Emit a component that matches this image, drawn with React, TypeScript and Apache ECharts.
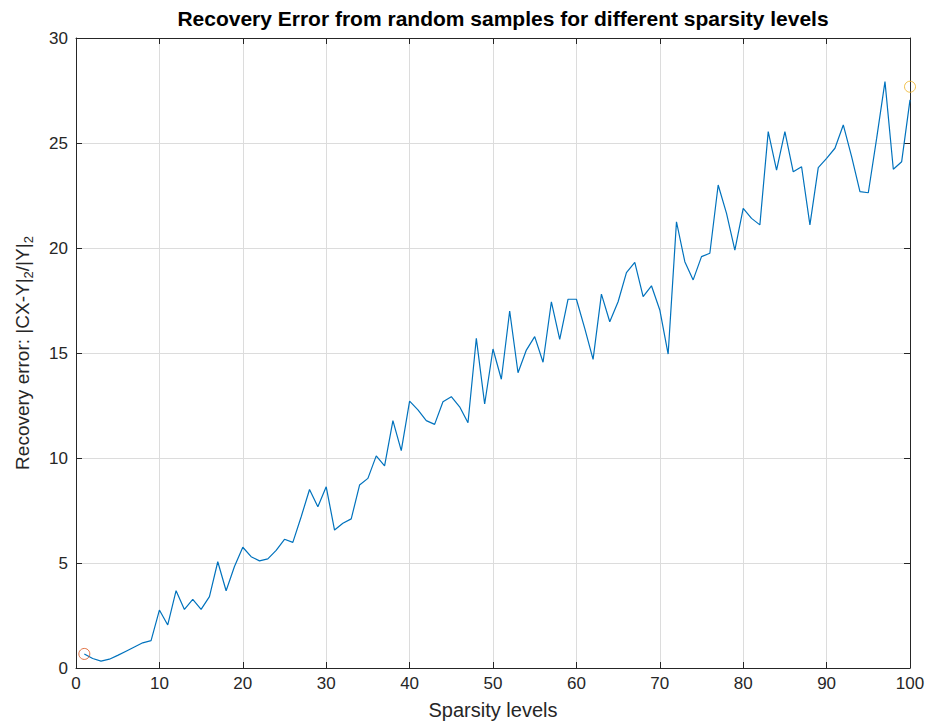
import React, { useEffect, useRef } from "react";
import * as echarts from "echarts";

const sparsity: number[] = Array.from({ length: 100 }, (_, i) => i + 1);
const recoveryError: number[] = [
  0.67, 0.45, 0.33, 0.42, 0.6, 0.8, 1.0, 1.2, 1.3, 2.76,
  2.05, 3.68, 2.79, 3.27, 2.79, 3.4, 5.06, 3.68, 4.83, 5.75,
  5.3, 5.1, 5.2, 5.6, 6.13, 5.98, 7.2, 8.5, 7.68, 8.63,
  6.57, 6.89, 7.1, 8.71, 9.03, 10.1, 9.63, 11.78, 10.35, 12.71,
  12.29, 11.78, 11.6, 12.68, 12.92, 12.44, 11.68, 15.7, 12.57, 15.19,
  13.75, 17.0, 14.06, 15.14, 15.78, 14.56, 17.44, 15.65, 17.56, 17.56,
  16.17, 14.7, 17.8, 16.49, 17.44, 18.83, 19.32, 17.68, 18.2, 17.05,
  14.95, 21.25, 19.35, 18.48, 19.59, 19.75, 23.0, 21.65, 19.9, 21.89,
  21.41, 21.1, 25.54, 23.71, 25.54, 23.63, 23.87, 21.1, 23.83, 24.27,
  24.75, 25.86, 24.35, 22.68, 22.63, 25.22, 27.92, 23.75, 24.11, 27.05,
];
const startMarker: [number, number] = [1, 0.67];
const endMarker: [number, number] = [100, 27.68];

const titleText = "Recovery Error from random samples for different sparsity levels";
const xName = "Sparsity levels";

export default function App() {
  const ref = useRef<HTMLDivElement>(null);
  useEffect(() => {
    document.body.style.margin = "0";
    const chart = echarts.init(ref.current!, null, { renderer: "svg" });
    const font = "Liberation Sans, Arial, Helvetica, sans-serif";
    const axisColor = "#262626";
    const gridLine = { show: true, lineStyle: { color: "#dcdcdc", width: 1 } };
    const axisLine = { show: true, onZero: false, lineStyle: { color: axisColor, width: 1 } };
    const axisTick = { show: true, inside: true, length: 6, lineStyle: { color: axisColor } };
    const commonX = { type: "value" as const, min: 0, max: 100, interval: 10 };
    const commonY = { type: "value" as const, min: 0, max: 30, interval: 5 };
    chart.setOption({
      animation: false,
      backgroundColor: "#ffffff",
      title: {
        text: titleText,
        left: 498,
        textAlign: "center",
        top: 3,
        textStyle: { fontFamily: font, fontSize: 21, fontWeight: "bold", color: "#000" },
      },
      grid: { left: 76, right: 20, top: 38, bottom: 58, containLabel: false },
      xAxis: [
        {
          ...commonX,
          position: "bottom",
          name: xName,
          nameLocation: "middle",
          nameGap: 32,
          nameTextStyle: { fontFamily: font, fontSize: 20, color: axisColor },
          axisLine,
          axisTick,
          axisLabel: { fontFamily: font, fontSize: 17, color: axisColor, margin: 7 },
          splitLine: gridLine,
        },
        {
          ...commonX,
          position: "top",
          axisLine,
          axisTick,
          axisLabel: { show: false },
          splitLine: { show: false },
        },
      ],
      yAxis: [
        {
          ...commonY,
          position: "left",
          name: "{a|Recovery error: |CX-Y|}{s|2}{a|/|Y|}{s|2}",
          nameLocation: "middle",
          nameGap: 41,
          nameTextStyle: {
            fontFamily: font,
            color: axisColor,
            rich: {
              a: { fontFamily: font, fontSize: 19, color: axisColor, lineHeight: 26, verticalAlign: "middle" },
              s: { fontFamily: font, fontSize: 13, color: axisColor, lineHeight: 26, verticalAlign: "bottom", padding: [11, 0, 0, 0] },
            },
          },
          axisLine,
          axisTick,
          axisLabel: { fontFamily: font, fontSize: 17, color: axisColor, margin: 8 },
          splitLine: gridLine,
        },
        {
          ...commonY,
          position: "right",
          axisLine,
          axisTick,
          axisLabel: { show: false },
          splitLine: { show: false },
        },
      ],
      series: [
        {
          type: "line",
          data: sparsity.map((x, i) => [x, recoveryError[i]]),
          showSymbol: false,
          symbol: "none",
          lineStyle: { color: "#0072BD", width: 1.2 },
          z: 3,
        },
        {
          type: "scatter",
          data: [startMarker],
          symbol: "circle",
          symbolSize: 11,
          itemStyle: { color: "rgba(0,0,0,0)", borderColor: "#D95319", borderWidth: 1 },
          z: 4,
        },
        {
          type: "scatter",
          data: [endMarker],
          symbol: "circle",
          symbolSize: 11,
          itemStyle: { color: "rgba(0,0,0,0)", borderColor: "#EDB120", borderWidth: 1 },
          z: 4,
        },
      ],
    });
    return () => chart.dispose();
  }, []);
  return <div ref={ref} style={{ width: 930, height: 726 }} />;
}
